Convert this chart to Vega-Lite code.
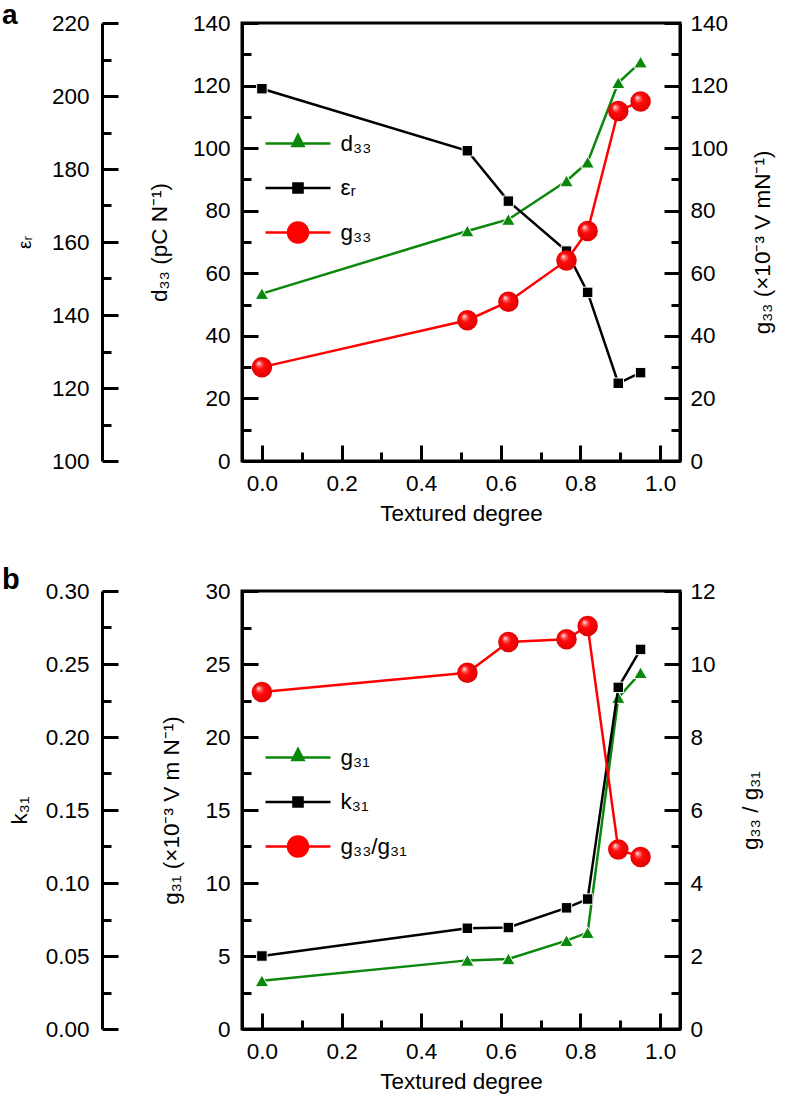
{
  "$schema": "https://vega.github.io/schema/vega-lite/v6.json",
  "padding": {"left": 0, "top": 0, "right": 0, "bottom": 0},
  "spacing": 37,
  "resolve": {"scale": {"shape": "independent", "fill": "independent", "stroke": "independent"}, "legend": {"shape": "independent", "fill": "independent", "stroke": "independent"}},
  "datasets": {
    "a": [
      {"x": 0.0, "s": "d33", "v": 53.5}, {"x": 0.516, "s": "d33", "v": 73.5}, {"x": 0.619, "s": "d33", "v": 77.2},
      {"x": 0.765, "s": "d33", "v": 89.5}, {"x": 0.818, "s": "d33", "v": 95.5}, {"x": 0.895, "s": "d33", "v": 120.9}, {"x": 0.951, "s": "d33", "v": 127.5},
      {"x": 0.0, "s": "er", "v": 202.0}, {"x": 0.516, "s": "er", "v": 185.0}, {"x": 0.619, "s": "er", "v": 171.2},
      {"x": 0.765, "s": "er", "v": 157.5}, {"x": 0.818, "s": "er", "v": 146.2}, {"x": 0.895, "s": "er", "v": 121.3}, {"x": 0.951, "s": "er", "v": 124.2},
      {"x": 0.0, "s": "g33", "v": 30.0}, {"x": 0.516, "s": "g33", "v": 45.0}, {"x": 0.619, "s": "g33", "v": 50.9},
      {"x": 0.765, "s": "g33", "v": 64.1}, {"x": 0.818, "s": "g33", "v": 73.5}, {"x": 0.895, "s": "g33", "v": 111.9}, {"x": 0.951, "s": "g33", "v": 114.9}
    ],
    "b": [
      {"x": 0.0, "s": "g31", "v": 3.3}, {"x": 0.516, "s": "g31", "v": 4.7}, {"x": 0.619, "s": "g31", "v": 4.8},
      {"x": 0.765, "s": "g31", "v": 6.05}, {"x": 0.818, "s": "g31", "v": 6.6}, {"x": 0.895, "s": "g31", "v": 22.7}, {"x": 0.951, "s": "g31", "v": 24.4},
      {"x": 0.0, "s": "k31", "v": 0.05}, {"x": 0.516, "s": "k31", "v": 0.069}, {"x": 0.619, "s": "k31", "v": 0.0695},
      {"x": 0.765, "s": "k31", "v": 0.083}, {"x": 0.818, "s": "k31", "v": 0.089}, {"x": 0.895, "s": "k31", "v": 0.234}, {"x": 0.951, "s": "k31", "v": 0.26},
      {"x": 0.0, "s": "ratio", "v": 9.23}, {"x": 0.516, "s": "ratio", "v": 9.76}, {"x": 0.619, "s": "ratio", "v": 10.6},
      {"x": 0.765, "s": "ratio", "v": 10.68}, {"x": 0.818, "s": "ratio", "v": 11.04}, {"x": 0.895, "s": "ratio", "v": 4.92}, {"x": 0.951, "s": "ratio", "v": 4.71}
    ]
  },
  "vconcat": [
    {
      "width": 438, "height": 438,
      "title": {"text": "a", "anchor": "start", "frame": "group", "fontSize": 28, "fontWeight": "bold", "dx": -240, "dy": 29, "offset": -11, "baseline": "alphabetic"},
      "data": {"name": "a"},
      "encoding": {
        "x": {"field": "x", "type": "quantitative", "scale": {"domain": [-0.05, 1.05], "nice": false, "zero": false},
          "axis": {"title": "Textured degree", "values": [0, 0.1, 0.2, 0.3, 0.4, 0.5, 0.6, 0.7, 0.8, 0.9, 1.0],
            "labelExpr": "round(datum.value*10) % 2 === 0 ? format(datum.value, '.1f') : ''",
            "tickSize": -16, "labelPadding": 27, "titlePadding": 8,
            "tickDash": {"condition": {"test": "round(datum.value*10) % 2 === 0", "value": [24, 2]}, "value": [9, 40]}}}
      },
      "layer": [
        {
          "transform": [{"filter": "datum.s === 'd33'"}],
          "encoding": {"y": {"field": "v", "type": "quantitative", "scale": {"domain": [0, 140], "nice": false},
            "axis": {"orient": "left", "title": "d₃₃ (pC N⁻¹)", "values": [0, 10, 20, 30, 40, 50, 60, 70, 80, 90, 100, 110, 120, 130, 140],
              "labelExpr": "datum.value % 20 === 0 ? datum.label : ''",
              "tickSize": -16, "labelPadding": 28, "titlePadding": 21,
              "tickDash": {"condition": {"test": "datum.value % 20 === 0", "value": [24, 2]}, "value": [9, 40]}}}},
          "layer": [
            {"mark": {"type": "line", "color": "#0b870b", "strokeWidth": 2.5}},
            {"mark": {"type": "point", "shape": "triangle-up", "filled": true, "color": "#0b870b", "opacity": 1, "size": 180, "stroke": "white", "strokeWidth": 1}}
          ]
        },
        {
          "transform": [{"filter": "datum.s === 'er'"}],
          "encoding": {"y": {"field": "v", "type": "quantitative", "scale": {"domain": [100, 220], "nice": false, "zero": false},
            "axis": {"orient": "left", "offset": 140, "title": "εᵣ", "titleFontSize": 19, "values": [100, 110, 120, 130, 140, 150, 160, 170, 180, 190, 200, 210, 220],
              "labelExpr": "datum.value % 20 === 0 ? datum.label : ''",
              "tickSize": -16, "labelPadding": 29, "titlePadding": 17,
              "tickDash": {"condition": {"test": "datum.value % 20 === 0", "value": [24, 2]}, "value": [9, 40]}}}},
          "layer": [
            {"mark": {"type": "line", "color": "black", "strokeWidth": 2.5}},
            {"mark": {"type": "point", "shape": "square", "filled": true, "color": "black", "opacity": 1, "size": 110, "stroke": "white", "strokeWidth": 1}}
          ]
        },
        {
          "transform": [{"filter": "datum.s === 'g33'"}],
          "encoding": {"y": {"field": "v", "type": "quantitative", "scale": {"domain": [0, 140], "nice": false},
            "axis": {"orient": "right", "title": "g₃₃ (×10⁻³ V mN⁻¹)", "titleAngle": 270, "titleBaseline": "top", "values": [0, 10, 20, 30, 40, 50, 60, 70, 80, 90, 100, 110, 120, 130, 140],
              "labelExpr": "datum.value % 20 === 0 ? datum.label : ''",
              "tickSize": -16, "labelPadding": 26, "titlePadding": 24,
              "tickDash": {"condition": {"test": "datum.value % 20 === 0", "value": [24, 2]}, "value": [9, 40]}}}},
          "layer": [
            {"mark": {"type": "line", "color": "#ff0000", "strokeWidth": 2.5}},
            {"mark": {"type": "point", "shape": "circle", "filled": true, "opacity": 1, "size": 420,
              "fill": {"gradient": "radial", "x1": 0.33, "y1": 0.3, "r1": 0, "x2": 0.5, "y2": 0.5, "r2": 0.55,
                "stops": [{"offset": 0, "color": "#ffffff"}, {"offset": 0.18, "color": "#ff7070"}, {"offset": 0.4, "color": "#ff0a0a"}, {"offset": 1, "color": "#dd0000"}]}}}
          ]
        },
        {
          "transform": [{"filter": "false"}],
          "mark": {"type": "point", "filled": true},
          "encoding": {
            "shape": {"field": "s", "type": "nominal", "scale": {"domain": ["d33", "er", "g33"], "range": ["M-2,0H2M0,-0.52L0.34,0.15L-0.34,0.15Z", "M-2,0H2M-0.28,-0.28H0.28V0.28H-0.28Z", "M-2,0H2M0.615,0A0.615,0.615,0,1,1,-0.615,0A0.615,0.615,0,1,1,0.615,0Z"]},
              "legend": {"orient": "none", "legendX": 38.5, "legendY": 103, "title": null, "padding": 0, "symbolSize": 1056, "symbolStrokeWidth": 2.5, "symbolOpacity": 1, "labelOffset": 25, "rowPadding": 15.5, "labelFontSize": 22.5, "labelExpr": "datum.value === 'd33' ? 'd₃₃' : datum.value === 'er' ? 'εᵣ' : 'g₃₃'"}},
            "fill": {"field": "s", "type": "nominal", "scale": {"domain": ["d33", "er", "g33"], "range": ["#0b870b", "black", "#ff0000"]},
              "legend": {"orient": "none", "legendX": 38.5, "legendY": 103, "title": null, "padding": 0, "symbolSize": 1056, "symbolStrokeWidth": 2.5, "symbolOpacity": 1, "labelOffset": 25, "rowPadding": 15.5, "labelFontSize": 22.5, "labelExpr": "datum.value === 'd33' ? 'd₃₃' : datum.value === 'er' ? 'εᵣ' : 'g₃₃'"}},
            "stroke": {"field": "s", "type": "nominal", "scale": {"domain": ["d33", "er", "g33"], "range": ["#0b870b", "black", "#ff0000"]},
              "legend": {"orient": "none", "legendX": 38.5, "legendY": 103, "title": null, "padding": 0, "symbolSize": 1056, "symbolStrokeWidth": 2.5, "symbolOpacity": 1, "labelOffset": 25, "rowPadding": 15.5, "labelFontSize": 22.5, "labelExpr": "datum.value === 'd33' ? 'd₃₃' : datum.value === 'er' ? 'εᵣ' : 'g₃₃'"}}
          }
        }
      ],
      "resolve": {"scale": {"y": "independent"}}
    },
    {
      "width": 438, "height": 438,
      "title": {"text": "b", "anchor": "start", "frame": "group", "fontSize": 29, "fontWeight": "bold", "dx": -240, "dy": 27, "offset": -11, "baseline": "alphabetic"},
      "data": {"name": "b"},
      "encoding": {
        "x": {"field": "x", "type": "quantitative", "scale": {"domain": [-0.05, 1.05], "nice": false, "zero": false},
          "axis": {"title": "Textured degree", "values": [0, 0.1, 0.2, 0.3, 0.4, 0.5, 0.6, 0.7, 0.8, 0.9, 1.0],
            "labelExpr": "round(datum.value*10) % 2 === 0 ? format(datum.value, '.1f') : ''",
            "tickSize": -16, "labelPadding": 27, "titlePadding": 8,
            "tickDash": {"condition": {"test": "round(datum.value*10) % 2 === 0", "value": [24, 2]}, "value": [9, 40]}}}
      },
      "layer": [
        {
          "transform": [{"filter": "datum.s === 'g31'"}],
          "encoding": {"y": {"field": "v", "type": "quantitative", "scale": {"domain": [0, 30], "nice": false},
            "axis": {"orient": "left", "title": "g₃₁ (×10⁻³ V m N⁻¹)", "values": [0, 2.5, 5, 7.5, 10, 12.5, 15, 17.5, 20, 22.5, 25, 27.5, 30],
              "labelExpr": "datum.value % 5 === 0 ? datum.label : ''",
              "tickSize": -16, "labelPadding": 28, "titlePadding": 21,
              "tickDash": {"condition": {"test": "datum.value % 5 === 0", "value": [24, 2]}, "value": [9, 40]}}}},
          "layer": [
            {"mark": {"type": "line", "color": "#0b870b", "strokeWidth": 2.5}},
            {"mark": {"type": "point", "shape": "triangle-up", "filled": true, "color": "#0b870b", "opacity": 1, "size": 180, "stroke": "white", "strokeWidth": 1}}
          ]
        },
        {
          "transform": [{"filter": "datum.s === 'k31'"}],
          "encoding": {"y": {"field": "v", "type": "quantitative", "scale": {"domain": [0, 0.3], "nice": false},
            "axis": {"orient": "left", "offset": 140, "title": "k₃₁", "values": [0, 0.025, 0.05, 0.075, 0.1, 0.125, 0.15, 0.175, 0.2, 0.225, 0.25, 0.275, 0.3],
              "labelExpr": "round(datum.value*1000) % 50 === 0 ? format(datum.value, '.2f') : ''",
              "tickSize": -16, "labelPadding": 29, "titlePadding": 14,
              "tickDash": {"condition": {"test": "round(datum.value*1000) % 50 === 0", "value": [24, 2]}, "value": [9, 40]}}}},
          "layer": [
            {"mark": {"type": "line", "color": "black", "strokeWidth": 2.5}},
            {"mark": {"type": "point", "shape": "square", "filled": true, "color": "black", "opacity": 1, "size": 110, "stroke": "white", "strokeWidth": 1}}
          ]
        },
        {
          "transform": [{"filter": "datum.s === 'ratio'"}],
          "encoding": {"y": {"field": "v", "type": "quantitative", "scale": {"domain": [0, 12], "nice": false},
            "axis": {"orient": "right", "title": "g₃₃ / g₃₁", "titleAngle": 270, "titleBaseline": "top", "values": [0, 1, 2, 3, 4, 5, 6, 7, 8, 9, 10, 11, 12],
              "labelExpr": "datum.value % 2 === 0 ? datum.label : ''",
              "tickSize": -16, "labelPadding": 26, "titlePadding": 24,
              "tickDash": {"condition": {"test": "datum.value % 2 === 0", "value": [24, 2]}, "value": [9, 40]}}}},
          "layer": [
            {"mark": {"type": "line", "color": "#ff0000", "strokeWidth": 2.5}},
            {"mark": {"type": "point", "shape": "circle", "filled": true, "opacity": 1, "size": 420,
              "fill": {"gradient": "radial", "x1": 0.33, "y1": 0.3, "r1": 0, "x2": 0.5, "y2": 0.5, "r2": 0.55,
                "stops": [{"offset": 0, "color": "#ffffff"}, {"offset": 0.18, "color": "#ff7070"}, {"offset": 0.4, "color": "#ff0a0a"}, {"offset": 1, "color": "#dd0000"}]}}}
          ]
        },
        {
          "transform": [{"filter": "false"}],
          "mark": {"type": "point", "filled": true},
          "encoding": {
            "shape": {"field": "s", "type": "nominal", "scale": {"domain": ["g31", "k31", "ratio"], "range": ["M-2,0H2M0,-0.52L0.34,0.15L-0.34,0.15Z", "M-2,0H2M-0.28,-0.28H0.28V0.28H-0.28Z", "M-2,0H2M0.615,0A0.615,0.615,0,1,1,-0.615,0A0.615,0.615,0,1,1,0.615,0Z"]},
              "legend": {"orient": "none", "legendX": 38.5, "legendY": 149, "title": null, "padding": 0, "symbolSize": 1056, "symbolStrokeWidth": 2.5, "symbolOpacity": 1, "labelOffset": 25, "rowPadding": 15.5, "labelFontSize": 22.5, "labelExpr": "datum.value === 'g31' ? 'g₃₁' : datum.value === 'k31' ? 'k₃₁' : 'g₃₃/g₃₁'"}},
            "fill": {"field": "s", "type": "nominal", "scale": {"domain": ["g31", "k31", "ratio"], "range": ["#0b870b", "black", "#ff0000"]},
              "legend": {"orient": "none", "legendX": 38.5, "legendY": 149, "title": null, "padding": 0, "symbolSize": 1056, "symbolStrokeWidth": 2.5, "symbolOpacity": 1, "labelOffset": 25, "rowPadding": 15.5, "labelFontSize": 22.5, "labelExpr": "datum.value === 'g31' ? 'g₃₁' : datum.value === 'k31' ? 'k₃₁' : 'g₃₃/g₃₁'"}},
            "stroke": {"field": "s", "type": "nominal", "scale": {"domain": ["g31", "k31", "ratio"], "range": ["#0b870b", "black", "#ff0000"]},
              "legend": {"orient": "none", "legendX": 38.5, "legendY": 149, "title": null, "padding": 0, "symbolSize": 1056, "symbolStrokeWidth": 2.5, "symbolOpacity": 1, "labelOffset": 25, "rowPadding": 15.5, "labelFontSize": 22.5, "labelExpr": "datum.value === 'g31' ? 'g₃₁' : datum.value === 'k31' ? 'k₃₁' : 'g₃₃/g₃₁'"}}
          }
        }
      ],
      "resolve": {"scale": {"y": "independent"}}
    }
  ],
  "config": {
    "font": "Liberation Sans",
    "view": {"stroke": "black", "strokeWidth": 3},
    "title": {"color": "black", "font": "Liberation Sans"},
    "axis": {"labelFont": "Liberation Sans", "titleFont": "Liberation Sans", "labelFontSize": 22.5, "titleFontSize": 22.5, "titleFontWeight": "normal",
      "labelColor": "black", "titleColor": "black", "domainColor": "black", "tickColor": "black", "domainWidth": 3, "tickWidth": 3, "grid": false,
      "labelOverlap": false, "labelFlush": false, "labelBound": false},
    "legend": {"labelFont": "Liberation Sans", "labelColor": "black"}
  }
}
